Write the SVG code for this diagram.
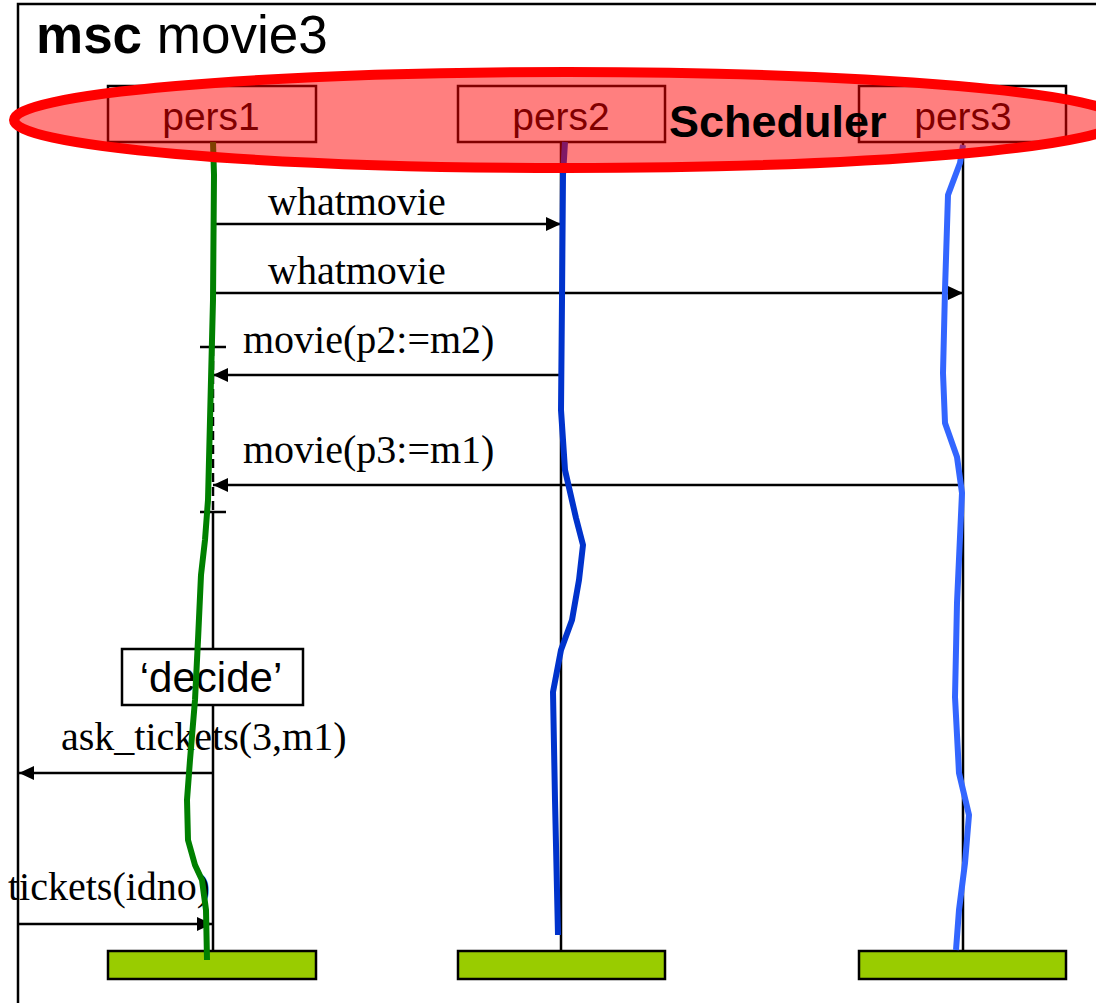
<svg xmlns="http://www.w3.org/2000/svg" width="1096" height="1003" viewBox="0 0 1096 1003">
  <defs>
    <marker id="arrow" viewBox="0 0 15 14" refX="15" refY="7" markerWidth="15" markerHeight="14" markerUnits="userSpaceOnUse" orient="auto">
      <path d="M0,0 L15,7 L0,14 Z" fill="#000"/>
    </marker>
    <style>
      .frame { fill: none; stroke: #000; stroke-width: 2.5; }
      .head { fill: #fff; stroke: #000; stroke-width: 2.5; }
      .foot { fill: #99CC00; stroke: #000; stroke-width: 2.5; }
      .axis { stroke: #000; stroke-width: 2.5; fill: none; }
      .msg { stroke: #000; stroke-width: 2.5; fill: none; marker-end: url(#arrow); }
      .sans { font-family: "Liberation Sans", Arial, sans-serif; fill: #000; }
      .serif { font-family: "Liberation Serif", "Times New Roman", serif; font-size: 40px; fill: #000; }
      .inst { font-size: 39px; text-anchor: middle; }
      .trace { fill: none; stroke-width: 6; stroke-linejoin: round; }
    </style>
  </defs>

  <!-- outer msc frame and title -->
  <g id="frame">
    <path class="frame" d="M18,1003 V4 H1096"/>
    <text class="sans" x="36" y="53" font-size="53"><tspan font-weight="bold">msc</tspan> movie3</text>
  </g>

  <!-- instance pers1 -->
  <g id="pers1">
    <rect class="head" x="108" y="86" width="208" height="56"/>
    <text class="sans inst" x="211" y="130">pers1</text>
    <path class="axis" d="M213,142 V347 M213,512 V951"/>
    <path class="axis" d="M213,347 V512" stroke-dasharray="9 5"/>
    <path class="axis" d="M200,347 H226 M200,512 H226"/>
    <rect class="foot" x="108" y="951" width="208" height="28"/>
  </g>

  <!-- instance pers2 -->
  <g id="pers2">
    <rect class="head" x="458" y="86" width="207" height="56"/>
    <text class="sans inst" x="561" y="130">pers2</text>
    <path class="axis" d="M561,142 V951"/>
    <rect class="foot" x="458" y="951" width="207" height="28"/>
  </g>

  <!-- instance pers3 -->
  <g id="pers3">
    <rect class="head" x="859" y="86" width="207" height="56"/>
    <text class="sans inst" x="963" y="130">pers3</text>
    <path class="axis" d="M963,142 V951"/>
    <rect class="foot" x="859" y="951" width="207" height="28"/>
  </g>

  <!-- local action on pers1 -->
  <g id="decide">
    <rect x="122" y="649" width="181" height="56" fill="#fff" stroke="#000" stroke-width="2.5"/>
    <text class="sans" x="211" y="692" font-size="42" text-anchor="middle">‘decide’</text>
  </g>

  <!-- messages -->
  <g id="connectors">
    <path class="msg" d="M213,224 H561"/>
    <text class="serif" x="268" y="215">whatmovie</text>
    <path class="msg" d="M213,293 H963"/>
    <text class="serif" x="268" y="284">whatmovie</text>
    <path class="msg" d="M561,375 H213"/>
    <text class="serif" x="243" y="353">movie(p2:=m2)</text>
    <path class="msg" d="M963,485 H213"/>
    <text class="serif" x="243" y="463">movie(p3:=m1)</text>
    <path class="msg" d="M213,773 H19"/>
    <text class="serif" x="61" y="750">ask_tickets(3,m1)</text>
    <path class="msg" d="M18,924 H212"/>
    <text class="serif" x="8" y="900">tickets(idno)</text>
  </g>

  <!-- hand-drawn execution traces -->
  <g id="traces">
    <path class="trace" stroke="#008000" d="M213,142 L214,175 L213,300 L210,420 L208,500 L205,540 L201,575 L198,640 L195,700 L190,760 L187,800 L188,840 L195,865 L202,880 L206,910 L207,960"/>
    <path class="trace" stroke="#0033CC" d="M565,142 L563,175 L562,300 L561,410 L565,470 L576,518 L583,545 L579,580 L572,620 L561,650 L553,692 L555,800 L558,935"/>
    <path class="trace" stroke="#3366FF" d="M963,145 L960,163 L948,195 L945,290 L943,373 L945,423 L957,457 L962,493 L957,603 L955,697 L959,773 L969,815 L965,863 L959,910 L956,950"/>
  </g>

  <!-- Scheduler grouping -->
  <g id="scheduler">
    <ellipse cx="567" cy="120" rx="553" ry="48" fill="#FF0000" fill-opacity="0.5" stroke="#FF0000" stroke-width="10"/>
    <text class="sans" x="669" y="137" font-size="45" font-weight="bold">Scheduler</text>
  </g>
</svg>
